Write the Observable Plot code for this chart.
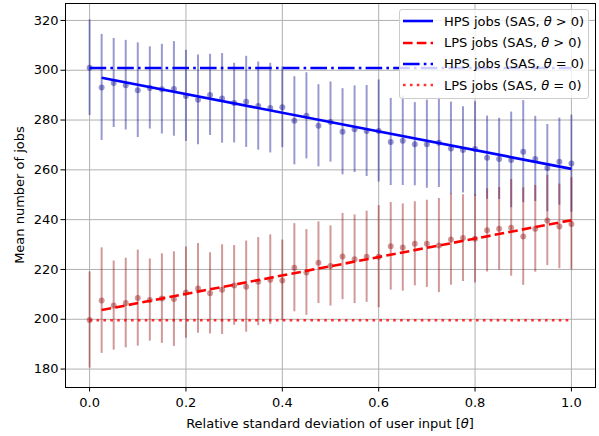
<!DOCTYPE html>
<html><head><meta charset="utf-8">
<script src="https://cdn.jsdelivr.net/npm/d3@7"></script>
<script src="https://cdn.jsdelivr.net/npm/@observablehq/plot@0.6"></script>
<style>
body{margin:0;background:#fff;font-family:"DejaVu Sans",sans-serif;}
#wrap{position:relative;width:599px;height:436px;}
#legend{position:absolute;left:399px;top:9px;width:190px;height:90px;box-sizing:border-box;background:rgba(255,255,255,0.8);border:1px solid #cccccc;border-radius:3px;font-size:13px;color:#000;}
.row{position:absolute;left:3px;height:20px;display:flex;align-items:center;white-space:nowrap;}
.row svg{width:30px;height:10px;margin-right:11px;}
</style></head>
<body><div id="wrap"></div>
<script>
const theta = [0, 0.025, 0.05, 0.075, 0.1, 0.125, 0.15, 0.175, 0.2, 0.225, 0.25, 0.275, 0.3, 0.325, 0.35, 0.375, 0.4, 0.425, 0.45, 0.475, 0.5, 0.525, 0.55, 0.575, 0.6, 0.625, 0.65, 0.675, 0.7, 0.725, 0.75, 0.775, 0.8, 0.825, 0.85, 0.875, 0.9, 0.925, 0.95, 0.975, 1.0];
const hpsMean = [301.0, 293.1, 294.9, 294.0, 292.0, 292.9, 292.4, 292.5, 289.7, 288.1, 290.1, 288.7, 286.8, 287.3, 285.6, 284.8, 285.1, 279.7, 281.7, 277.7, 279.2, 275.3, 276.3, 275.6, 275.6, 271.2, 271.7, 270.3, 270.3, 270.9, 268.6, 268.0, 268.4, 264.9, 264.4, 264.0, 267.3, 264.4, 260.7, 263.3, 262.5];
const hpsSd = [19.2, 21.3, 17.9, 18.0, 19.0, 16.5, 18.0, 19.0, 18.3, 18.0, 16.3, 18.0, 16.0, 18.3, 17.7, 18.0, 16.2, 17.7, 17.3, 16.5, 16.1, 17.3, 17.4, 18.3, 20.5, 17.5, 18.0, 16.7, 17.7, 18.0, 18.6, 17.3, 19.0, 16.7, 16.3, 19.2, 20.5, 17.1, 17.5, 17.5, 19.5];
const lpsMean = [199.7, 207.5, 205.5, 206.5, 208.5, 207.7, 208.3, 208.1, 210.7, 212.4, 210.4, 211.9, 213.6, 213.1, 215.1, 215.9, 215.6, 220.7, 218.8, 222.7, 221.4, 225.2, 224.1, 225.1, 225.1, 229.3, 228.8, 230.3, 230.3, 229.6, 232.0, 232.6, 232.3, 235.7, 236.3, 236.7, 233.2, 236.3, 239.7, 237.3, 238.3];
const lpsSd = [19.3, 21.2, 17.9, 18.0, 19.3, 16.5, 18.0, 19.0, 18.3, 18.0, 16.3, 18.0, 16.0, 18.3, 17.7, 18.0, 16.2, 17.7, 17.2, 16.4, 16.1, 17.3, 17.8, 18.3, 20.5, 17.6, 17.5, 16.9, 17.5, 18.9, 18.3, 17.4, 17.7, 16.7, 16.6, 19.4, 19.6, 17.4, 18.1, 17.0, 18.5];
const fitX = [0.025, 1.0];
const hpsFitY = [297.0, 260.4];
const lpsFitY = [203.7, 239.8];
const baseX = [0, 1];
const hpsBaseY = [300.9, 300.9];
const lpsBaseY = [199.6, 199.6];
const xTicks = [0, 0.2, 0.4, 0.6, 0.8, 1.0];
const yTicks = [180, 200, 220, 240, 260, 280, 300, 320];
const legendLabels = ["HPS jobs (SAS, θ > 0)", "LPS jobs (SAS, θ > 0)", "HPS jobs (SAS, θ = 0)", "LPS jobs (SAS, θ = 0)"];

const hps = theta.map((t, i) => ({x: t, m: hpsMean[i], s: hpsSd[i]}));
const lps = theta.map((t, i) => ({x: t, m: lpsMean[i], s: lpsSd[i]}));
const toPts = (xs, ys) => xs.map((x, i) => ({x, y: ys[i]}));

const styles = [
  {stroke: "#0000ff", dash: null, opacity: 1},
  {stroke: "#ff0000", dash: "9.6,4.2", opacity: 1},
  {stroke: "#0000ff", dash: "16.6,4.2,2.6,4.2", opacity: 1},
  {stroke: "#ff0000", dash: "2.6,4.3", opacity: 0.8}
];

const chart = Plot.plot({
  width: 599, height: 436,
  marginLeft: 65, marginRight: 4, marginTop: 3, marginBottom: 49,
  style: {fontFamily: "DejaVu Sans, sans-serif", fontSize: "13px", background: "#fff", color: "#000"},
  x: {domain: [-0.05, 1.05]},
  y: {domain: [172.6, 326.8]},
  marks: [
    Plot.gridX(xTicks, {stroke: "#b0b0b0", strokeOpacity: 1, strokeWidth: 1}),
    Plot.gridY(yTicks, {stroke: "#b0b0b0", strokeOpacity: 1, strokeWidth: 1}),
    Plot.ruleX(hps, {x: "x", y1: d => d.m - d.s, y2: d => d.m + d.s, stroke: "darkblue", strokeOpacity: 0.4, strokeWidth: 2}),
    Plot.dot(hps, {x: "x", y: "m", r: 3, fill: "darkblue", fillOpacity: 0.4}),
    Plot.ruleX(lps, {x: "x", y1: d => d.m - d.s, y2: d => d.m + d.s, stroke: "darkred", strokeOpacity: 0.4, strokeWidth: 2}),
    Plot.dot(lps, {x: "x", y: "m", r: 3, fill: "darkred", fillOpacity: 0.4}),
    Plot.line(toPts(fitX, hpsFitY), {x: "x", y: "y", stroke: styles[0].stroke, strokeWidth: 2.6, strokeLinecap: "butt"}),
    Plot.line(toPts(fitX, lpsFitY), {x: "x", y: "y", stroke: styles[1].stroke, strokeWidth: 2.6, strokeDasharray: styles[1].dash, strokeLinecap: "butt"}),
    Plot.line(toPts(baseX, hpsBaseY), {x: "x", y: "y", stroke: styles[2].stroke, strokeWidth: 2.6, strokeDasharray: styles[2].dash, strokeLinecap: "butt"}),
    Plot.line(toPts(baseX, lpsBaseY), {x: "x", y: "y", stroke: styles[3].stroke, strokeOpacity: styles[3].opacity, strokeWidth: 2.6, strokeDasharray: styles[3].dash, strokeLinecap: "butt"}),
    Plot.frame({stroke: "#000", strokeWidth: 1}),
    Plot.axisX({ticks: xTicks, tickFormat: d3.format(".1f"), tickSize: 4.5, tickPadding: 6, label: null}),
    Plot.axisY({ticks: yTicks, tickSize: 4.5, tickPadding: 2.5, label: null})
  ]
});

const svg = d3.select(chart);
const xl = svg.append("text").attr("x", 330).attr("y", 428).attr("text-anchor", "middle")
  .attr("font-size", 13).attr("fill", "#000");
xl.append("tspan").text("Relative standard deviation of user input [");
xl.append("tspan").attr("font-style", "italic").text("θ");
xl.append("tspan").text("]");
svg.append("text").attr("transform", "translate(24,195) rotate(-90)").attr("text-anchor", "middle")
  .attr("font-size", 13).attr("fill", "#000").text("Mean number of jobs");

const wrap = document.getElementById("wrap");
wrap.appendChild(chart);
const leg = document.createElement("div");
leg.id = "legend";
wrap.appendChild(leg);
const rowTops = [1, 22.5, 43.5, 65];
legendLabels.forEach((lab, i) => {
  const row = document.createElement("div");
  row.className = "row";
  row.style.top = rowTops[i] + "px";
  const st = styles[i];
  row.innerHTML = `<svg viewBox="0 0 30 10"><line x1="0" x2="30" y1="5" y2="5" stroke="${st.stroke}" stroke-opacity="${st.opacity}" stroke-width="2.6" ${st.dash ? `stroke-dasharray="${st.dash}"` : ""}/></svg>` +
    `<span>${lab.replace("θ", "<i>θ</i>")}</span>`;
  leg.appendChild(row);
});
</script></body></html>
